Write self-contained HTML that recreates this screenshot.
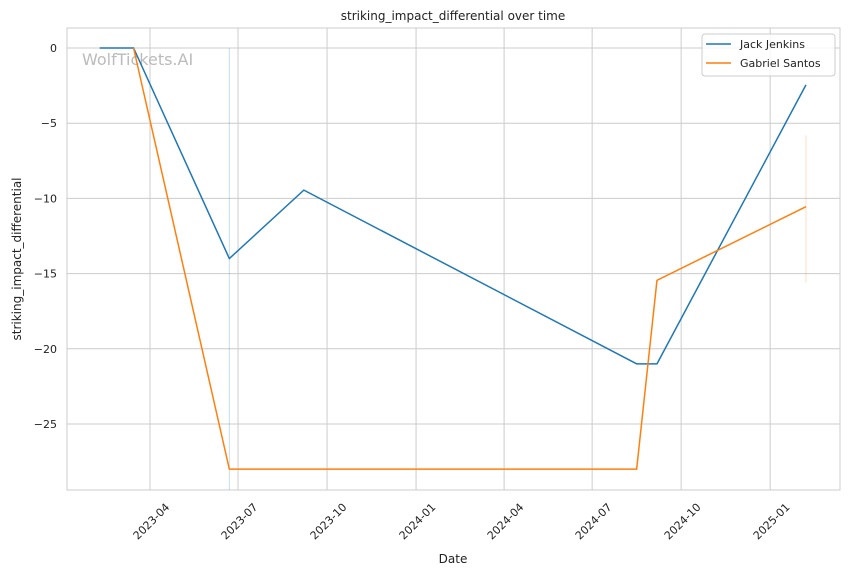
<!DOCTYPE html>
<html><head><meta charset="utf-8"><style>
body{margin:0;background:#fff;font-family:"Liberation Sans","DejaVu Sans",sans-serif}
svg text{font-family:"DejaVu Sans","Liberation Sans",sans-serif}
</style></head><body>
<svg id="c" width="850" height="575" xmlns="http://www.w3.org/2000/svg">
<rect width="850" height="575" fill="#fff"/>
<g id="grid"></g>
<rect x="67" y="28" width="773" height="462" fill="none" stroke="#ccc" stroke-width="1"/>
<text x="82" y="65" font-size="16" fill="#bbb">WolfTickets.AI</text>
<g id="marks"></g>
<text x="453" y="20" font-size="12" text-anchor="middle" fill="#222">striking_impact_differential over time</text>
<text x="453" y="563" font-size="12" text-anchor="middle" fill="#222">Date</text>
<text transform="translate(21,259) rotate(-90)" font-size="12" text-anchor="middle" fill="#222">striking_impact_differential</text>
<g>
<rect x="702" y="34" width="133" height="42" rx="3" fill="#fff" fill-opacity="0.8" stroke="#ccc"/>
<line x1="706" y1="44" x2="731" y2="44" stroke="#1f77b4" stroke-width="1.5"/>
<text x="740" y="48" font-size="11" fill="#222">Jack Jenkins</text>
<line x1="706" y1="63" x2="731" y2="63" stroke="#ff7f0e" stroke-width="1.5"/>
<text x="740" y="67" font-size="11" fill="#222">Gabriel Santos</text>
</g>
</svg>
<script>
const jackDates=["2023-02-08","2023-03-15","2023-06-22","2023-09-07","2024-08-16","2024-09-06","2025-02-07"];
const jackValues=[0,0,-14,-9.45,-21,-21,-2.45];
const gabrielDates=["2023-03-15","2023-06-22","2024-08-16","2024-09-06","2025-02-07"];
const gabrielValues=[0,-28,-28,-15.45,-10.55];
const xTickLabels=["2023-04","2023-07","2023-10","2024-01","2024-04","2024-07","2024-10","2025-01"];
const yTicks=[0,-5,-10,-15,-20,-25];
const jackBand={date:"2023-06-22",lo:-29.4,hi:0};
const gabrielBand={date:"2025-02-07",lo:-15.6,hi:-5.8};
const NS="http://www.w3.org/2000/svg";
const t0=Date.UTC(2023,3,1);
function x(d){const p=d.split("-").map(Number);const t=Date.UTC(p[0],p[1]-1,p[2]||1);return 150+(t-t0)/86400000*0.9675;}
function y(v){return 48-v*15.04;}
const grid=document.getElementById("grid"),marks=document.getElementById("marks"),svg=document.getElementById("c");
function mk(tag,a,parent){const e=document.createElementNS(NS,tag);for(const k in a)e.setAttribute(k,a[k]);parent.appendChild(e);return e;}
xTickLabels.forEach(l=>{const px=x(l+"-01");
const g=mk("line",{x1:px,x2:px,y1:28,y2:490,stroke:"#ccc","stroke-width":1},grid);


const t=mk("text",{transform:`translate(${px+4},${524}) rotate(-45)`,"font-size":11,"text-anchor":"middle",fill:"#222"},svg);
t.textContent=l;


});
yTicks.forEach(v=>{const py=y(v);
const g=mk("line",{x1:67,x2:840,y1:py,y2:py,stroke:"#ccc","stroke-width":1},grid);


const t=mk("text",{x:57,y:py+4,"font-size":11,"text-anchor":"end",fill:"#222"},svg);
t.textContent=v<0?"\u2212"+Math.abs(v):String(v);


});
const b1=mk("line",{x1:x(jackBand.date),x2:x(jackBand.date),y1:y(jackBand.hi),y2:y(jackBand.lo),stroke:"#1f77b4","stroke-opacity":0.25,"stroke-width":1},marks);


const b2=mk("line",{x1:x(gabrielBand.date),x2:x(gabrielBand.date),y1:y(gabrielBand.hi),y2:y(gabrielBand.lo),stroke:"#ff7f0e","stroke-opacity":0.25,"stroke-width":1},marks);


const pj=mk("polyline",{points:jackDates.map((d,i)=>x(d)+","+y(jackValues[i])).join(" "),fill:"none",stroke:"#1f77b4","stroke-width":1.5},marks);


const pg=mk("polyline",{points:gabrielDates.map((d,i)=>x(d)+","+y(gabrielValues[i])).join(" "),fill:"none",stroke:"#ff7f0e","stroke-width":1.5},marks);


</script>
</body></html>
